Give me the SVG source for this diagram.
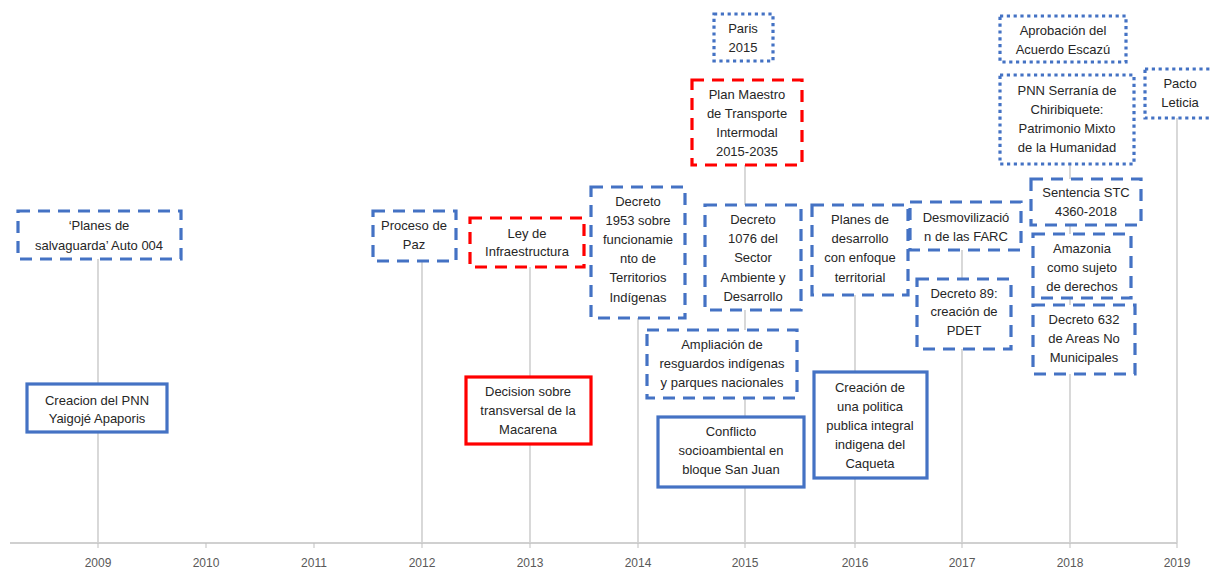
<svg xmlns="http://www.w3.org/2000/svg" width="1211" height="572" viewBox="0 0 1211 572">
  <style>
    .bg { fill: #ffffff; }
    .stem { stroke: #bfbfbf; stroke-width: 1.2; fill: none; }
    .axis { stroke: #d0d0d0; stroke-width: 2; fill: none; }
    .tick { stroke: #bfbfbf; stroke-width: 1; }
    .year { font-family: "Liberation Sans", Arial, sans-serif; font-size: 12px; fill: #595959; text-anchor: middle; }
    .box { fill: #ffffff; stroke-width: 3.2; }
    .blue { stroke: #4472C4; }
    .red { stroke: #FF0000; }
    .dash { stroke-dasharray: 12 8; }
    .dot { stroke-dasharray: 3.2 3.6; }
    .lbl { font-family: "Liberation Sans", Arial, sans-serif; font-size: 13px; fill: #262626; text-anchor: middle; }
  </style>
  <rect class="bg" x="0" y="0" width="1211" height="572"/>

  <!-- timeline stems and axis -->
  <g id="connectors">
    <line class="stem" x1="98" y1="258" x2="98" y2="543"/>
    <line class="stem" x1="422" y1="260" x2="422" y2="543"/>
    <line class="stem" x1="530" y1="266" x2="530" y2="543"/>
    <line class="stem" x1="638" y1="318" x2="638" y2="543"/>
    <line class="stem" x1="745" y1="165" x2="745" y2="543"/>
    <line class="stem" x1="855" y1="294" x2="855" y2="543"/>
    <line class="stem" x1="962" y1="249" x2="962" y2="543"/>
    <line class="stem" x1="1070" y1="164" x2="1070" y2="543"/>
    <line class="stem" x1="1177" y1="118" x2="1177" y2="543"/>
    <line class="axis" x1="10" y1="543" x2="1177" y2="543"/>
    <line class="tick" x1="206" y1="543" x2="206" y2="548"/>
    <line class="tick" x1="314" y1="543" x2="314" y2="548"/>
    <line class="tick" x1="98" y1="543" x2="98" y2="548"/>
    <line class="tick" x1="422" y1="543" x2="422" y2="548"/>
    <line class="tick" x1="530" y1="543" x2="530" y2="548"/>
    <line class="tick" x1="638" y1="543" x2="638" y2="548"/>
    <line class="tick" x1="745" y1="543" x2="745" y2="548"/>
    <line class="tick" x1="855" y1="543" x2="855" y2="548"/>
    <line class="tick" x1="962" y1="543" x2="962" y2="548"/>
    <line class="tick" x1="1070" y1="543" x2="1070" y2="548"/>
    <line class="tick" x1="1177" y1="543" x2="1177" y2="548"/>
  </g>

  <g id="years">
    <text class="year" x="98" y="567">2009</text>
    <text class="year" x="206" y="567">2010</text>
    <text class="year" x="314" y="567">2011</text>
    <text class="year" x="422" y="567">2012</text>
    <text class="year" x="530" y="567">2013</text>
    <text class="year" x="638" y="567">2014</text>
    <text class="year" x="745" y="567">2015</text>
    <text class="year" x="855" y="567">2016</text>
    <text class="year" x="962" y="567">2017</text>
    <text class="year" x="1070" y="567">2018</text>
    <text class="year" x="1177" y="567">2019</text>
  </g>

  <g id="n-salvaguarda">
    <rect class="box blue dash" x="18" y="211" width="163" height="48"/>
    <text class="lbl" x="99" y="230">‘Planes de</text>
    <text class="lbl" x="99" y="250">salvaguarda’ Auto 004</text>
  </g>

  <g id="n-yaigoje">
    <rect class="box blue" x="27" y="384" width="140" height="48"/>
    <text class="lbl" x="97" y="405">Creacion del PNN</text>
    <text class="lbl" x="97" y="423">Yaigojé Apaporis</text>
  </g>

  <g id="n-paz">
    <rect class="box blue dash" x="373" y="211" width="83" height="50"/>
    <text class="lbl" x="414" y="230">Proceso de</text>
    <text class="lbl" x="414" y="249">Paz</text>
  </g>

  <g id="n-infraestructura">
    <rect class="box red dash" x="470" y="218" width="114" height="49"/>
    <text class="lbl" x="527" y="238">Ley de</text>
    <text class="lbl" x="527" y="256">Infraestructura</text>
  </g>

  <g id="n-macarena">
    <rect class="box red" x="466" y="377" width="125" height="67"/>
    <text class="lbl" x="528" y="396">Decision sobre</text>
    <text class="lbl" x="528" y="415">transversal de la</text>
    <text class="lbl" x="528" y="434">Macarena</text>
  </g>

  <g id="n-decreto1953">
    <rect class="box blue dash" x="591" y="187" width="94" height="131"/>
    <text class="lbl" x="638" y="206">Decreto</text>
    <text class="lbl" x="638" y="225">1953 sobre</text>
    <text class="lbl" x="638" y="244">funcionamie</text>
    <text class="lbl" x="638" y="263">nto de</text>
    <text class="lbl" x="638" y="282">Territorios</text>
    <text class="lbl" x="638" y="302">Indígenas</text>
  </g>

  <g id="n-paris">
    <rect class="box blue dot" x="714" y="14" width="59" height="47"/>
    <text class="lbl" x="743" y="33">Paris</text>
    <text class="lbl" x="743" y="52">2015</text>
  </g>

  <g id="n-plan-maestro">
    <rect class="box red dash" x="692" y="80" width="110" height="85"/>
    <text class="lbl" x="747" y="99">Plan Maestro</text>
    <text class="lbl" x="747" y="118">de Transporte</text>
    <text class="lbl" x="747" y="137">Intermodal</text>
    <text class="lbl" x="747" y="156">2015-2035</text>
  </g>

  <g id="n-decreto1076">
    <rect class="box blue dash" x="705" y="205" width="96" height="105"/>
    <text class="lbl" x="753" y="224">Decreto</text>
    <text class="lbl" x="753" y="243">1076 del</text>
    <text class="lbl" x="753" y="262">Sector</text>
    <text class="lbl" x="753" y="282">Ambiente y</text>
    <text class="lbl" x="753" y="301">Desarrollo</text>
  </g>

  <g id="n-ampliacion">
    <rect class="box blue dash" x="647" y="330" width="150" height="68"/>
    <text class="lbl" x="722" y="349">Ampliación de</text>
    <text class="lbl" x="722" y="368">resguardos indígenas</text>
    <text class="lbl" x="722" y="387">y parques nacionales</text>
  </g>

  <g id="n-san-juan">
    <rect class="box blue" x="658" y="417" width="146" height="70"/>
    <text class="lbl" x="731" y="436">Conflicto</text>
    <text class="lbl" x="731" y="455">socioambiental en</text>
    <text class="lbl" x="731" y="474">bloque San Juan</text>
  </g>

  <g id="n-planes-desarrollo">
    <rect class="box blue dash" x="812" y="205" width="96" height="90"/>
    <text class="lbl" x="860" y="224">Planes de</text>
    <text class="lbl" x="860" y="243">desarrollo</text>
    <text class="lbl" x="860" y="262">con enfoque</text>
    <text class="lbl" x="860" y="282">territorial</text>
  </g>

  <g id="n-caqueta">
    <rect class="box blue" x="814" y="372" width="113" height="106"/>
    <text class="lbl" x="870" y="392">Creación de</text>
    <text class="lbl" x="870" y="411">una politica</text>
    <text class="lbl" x="870" y="430">publica integral</text>
    <text class="lbl" x="870" y="449">indigena del</text>
    <text class="lbl" x="870" y="468">Caqueta</text>
  </g>

  <g id="n-farc">
    <rect class="box blue dash" x="910" y="202" width="111" height="48"/>
    <text class="lbl" x="966" y="222">Desmovilizació</text>
    <text class="lbl" x="966" y="241">n de las FARC</text>
  </g>

  <g id="n-pdet">
    <rect class="box blue dash" x="917" y="279" width="94" height="70"/>
    <text class="lbl" x="964" y="298">Decreto 89:</text>
    <text class="lbl" x="964" y="316">creación de</text>
    <text class="lbl" x="964" y="335">PDET</text>
  </g>

  <g id="n-escazu">
    <rect class="box blue dot" x="1000" y="16" width="126" height="46"/>
    <text class="lbl" x="1063" y="35">Aprobación del</text>
    <text class="lbl" x="1063" y="54">Acuerdo Escazú</text>
  </g>

  <g id="n-chiribiquete">
    <rect class="box blue dot" x="1000" y="75" width="134" height="89"/>
    <text class="lbl" x="1067" y="95">PNN Serranía de</text>
    <text class="lbl" x="1067" y="114">Chiribiquete:</text>
    <text class="lbl" x="1067" y="133">Patrimonio Mixto</text>
    <text class="lbl" x="1067" y="152">de la Humanidad</text>
  </g>

  <g id="n-leticia">
    <rect class="box blue dot" x="1145" y="69" width="72" height="49"/>
    <text class="lbl" x="1180" y="88">Pacto</text>
    <text class="lbl" x="1180" y="107">Leticia</text>
  </g>

  <g id="n-stc">
    <rect class="box blue dash" x="1031" y="179" width="110" height="46"/>
    <text class="lbl" x="1086" y="197">Sentencia STC</text>
    <text class="lbl" x="1086" y="216">4360-2018</text>
  </g>

  <g id="n-amazonia">
    <rect class="box blue dash" x="1033" y="234" width="98" height="64"/>
    <text class="lbl" x="1082" y="253">Amazonia</text>
    <text class="lbl" x="1082" y="272">como sujeto</text>
    <text class="lbl" x="1082" y="291">de derechos</text>
  </g>

  <g id="n-decreto632">
    <rect class="box blue dash" x="1033" y="305" width="102" height="69"/>
    <text class="lbl" x="1084" y="324">Decreto 632</text>
    <text class="lbl" x="1084" y="343">de Areas No</text>
    <text class="lbl" x="1084" y="362">Municipales</text>
  </g>
</svg>
